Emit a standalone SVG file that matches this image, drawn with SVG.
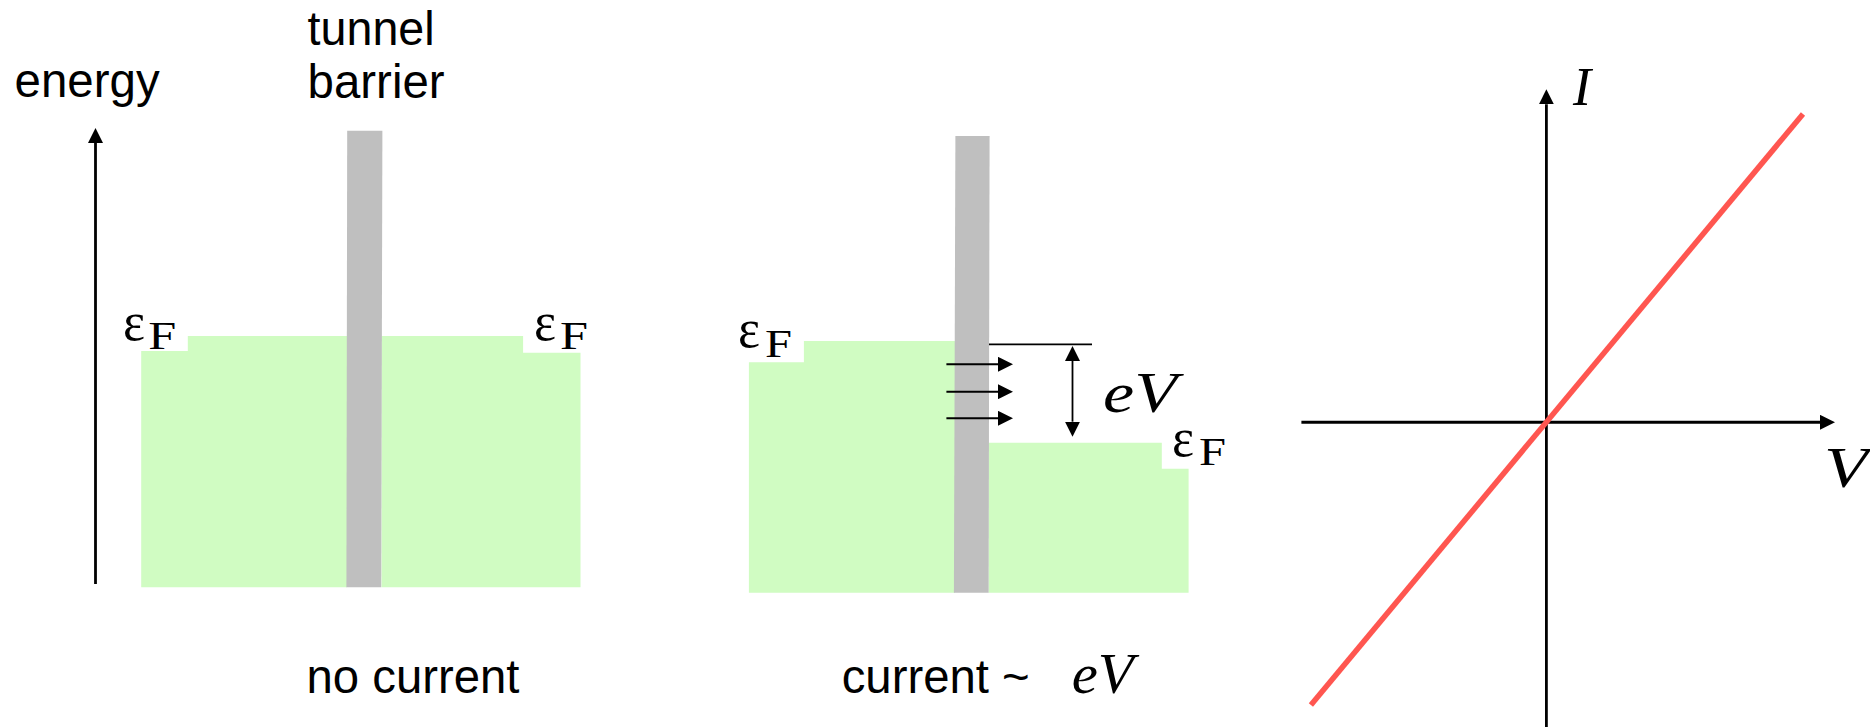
<svg xmlns="http://www.w3.org/2000/svg" width="1870" height="727" viewBox="0 0 1870 727">
<style>
.sans{font-family:"Liberation Sans",Arial,sans-serif;font-size:48px;fill:#000}
.math{font-family:"Liberation Serif","Times New Roman",serif;font-style:italic;fill:#000}
.rm{font-family:"Liberation Serif","Times New Roman",serif;fill:#000}
.eps{font-size:55px}
.sub{font-size:40px}
.green{fill:#d0fcc2}
.barrier{fill:#bfbfbf}
.arr{stroke:#000;fill:none}
</style>
<defs>
<marker id="ah" markerUnits="userSpaceOnUse" markerWidth="15" markerHeight="15" refX="0" refY="7.5" orient="auto-start-reverse">
<path d="M0,0 L15,7.5 L0,15 z" fill="#000"/>
</marker>
</defs>
<rect width="1870" height="727" fill="#fff"/>

<g id="panel-equilibrium">
<polygon class="green" points="141.2,351 187.8,351 187.8,336 347,336 347,587.3 141.2,587.3"/>
<polygon class="green" points="381.5,336 523.1,336 523.1,352.7 580.5,352.7 580.5,587.3 381.5,587.3"/>
<polygon class="barrier" points="347.2,130.7 382.4,130.7 381.2,587.3 346.4,587.3"/>
<text class="sans" x="14.6" y="97" textLength="145" lengthAdjust="spacingAndGlyphs">energy</text>
<text class="sans" x="307.6" y="45" textLength="127" lengthAdjust="spacingAndGlyphs">tunnel</text>
<text class="sans" x="307.6" y="98" textLength="137" lengthAdjust="spacingAndGlyphs">barrier</text>
<text class="rm"><tspan class="eps" x="123" y="339.5" textLength="22" lengthAdjust="spacingAndGlyphs">ε</tspan><tspan class="sub" x="148.3" y="348.5" textLength="28" lengthAdjust="spacingAndGlyphs">F</tspan></text>
<text class="rm"><tspan class="eps" x="534" y="339.5" textLength="22" lengthAdjust="spacingAndGlyphs">ε</tspan><tspan class="sub" x="560" y="348.5" textLength="28" lengthAdjust="spacingAndGlyphs">F</tspan></text>
<text class="sans" x="306.5" y="693" textLength="213" lengthAdjust="spacingAndGlyphs">no current</text>
</g>

<g id="panel-biased">
<polygon class="green" points="748.9,362.3 803.9,362.3 803.9,341 955,341 955,592.7 748.9,592.7"/>
<polygon class="green" points="988.5,442.7 1161.8,442.7 1161.8,468.7 1188.6,468.7 1188.6,592.7 988.5,592.7"/>
<polygon class="barrier" points="955.4,136 989.6,136 988.6,592.7 953.9,592.7"/>
<line x1="989" y1="344.3" x2="1092" y2="344.3" stroke="#000" stroke-width="1.8"/>
<text class="rm"><tspan class="eps" x="738" y="347" textLength="22" lengthAdjust="spacingAndGlyphs">ε</tspan><tspan class="sub" x="765" y="357" textLength="27" lengthAdjust="spacingAndGlyphs">F</tspan></text>
<text class="rm"><tspan class="eps" x="1172" y="455.5" textLength="22" lengthAdjust="spacingAndGlyphs">ε</tspan><tspan class="sub" x="1199" y="464.5" textLength="27" lengthAdjust="spacingAndGlyphs">F</tspan></text>
<text class="math" x="1103" y="411.7" font-size="56" textLength="74" lengthAdjust="spacingAndGlyphs">eV</text>
<text class="sans" x="841.7" y="693.3" textLength="188" lengthAdjust="spacingAndGlyphs">current ~</text>
<text class="math" x="1071.7" y="693.3" font-size="56" textLength="62" lengthAdjust="spacingAndGlyphs">eV</text>
</g>

<g id="panel-iv">
<text class="math" x="1573" y="105" font-size="54">I</text>
<text class="math" x="1824" y="487" font-size="56" textLength="44" lengthAdjust="spacingAndGlyphs">V</text>
</g>

<g id="connectors">
<line class="arr" x1="95.5" y1="584" x2="95.5" y2="143" stroke-width="2.8" marker-end="url(#ah)"/>
<line class="arr" x1="946.4" y1="364.3" x2="998" y2="364.3" stroke-width="2" marker-end="url(#ah)"/>
<line class="arr" x1="946.4" y1="391.7" x2="998" y2="391.7" stroke-width="2" marker-end="url(#ah)"/>
<line class="arr" x1="946.4" y1="418.3" x2="998" y2="418.3" stroke-width="2" marker-end="url(#ah)"/>
<line class="arr" x1="1072.5" y1="361" x2="1072.5" y2="421.7" stroke-width="1.8" marker-start="url(#ah)" marker-end="url(#ah)"/>
<line class="arr" x1="1546.4" y1="727" x2="1546.4" y2="104.3" stroke-width="2.8" marker-end="url(#ah)"/>
<line class="arr" x1="1301.4" y1="422.3" x2="1820" y2="422.3" stroke-width="3" marker-end="url(#ah)"/>
<line x1="1310.9" y1="705" x2="1803" y2="114" stroke="#ff5650" stroke-width="5.5"/>
</g>
</svg>
